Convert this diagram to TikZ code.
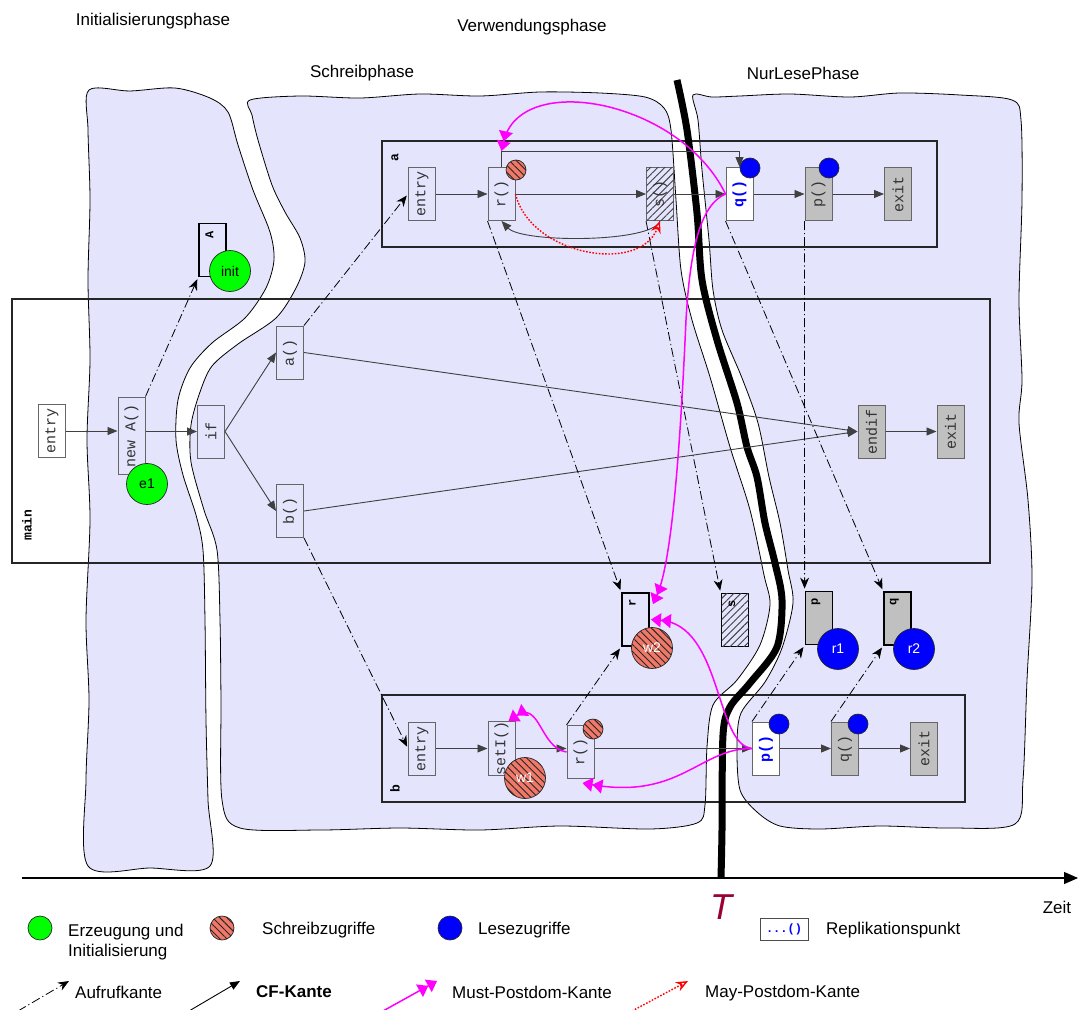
\documentclass[tikz,border=0pt]{standalone}
\usepackage{fontspec}
\setmainfont{Liberation Sans}
\newfontfamily\monofont{Liberation Mono}
\usepackage{graphicx}
\usetikzlibrary{arrows.meta,patterns.meta,calc}
\definecolor{lav}{RGB}{228,228,252}
\definecolor{salmon}{RGB}{240,120,104}
\definecolor{rogray}{RGB}{192,192,192}
\definecolor{tred}{RGB}{153,0,51}
\definecolor{greenfill}{RGB}{0,255,0}
\definecolor{mustpink}{RGB}{255,0,255}
\definecolor{mayred}{RGB}{255,0,0}
\definecolor{readblue}{RGB}{0,0,255}
\begin{document}
\begin{tikzpicture}[x=1pt,y=-1pt,
  blob/.style={fill=lav, draw=black, line width=0.8pt},
  frame/.style={draw=black!85, line width=2.4pt, inner sep=0pt},
  framelbl/.style={font=\monofont\bfseries\fontsize{13}{13}\selectfont, inner sep=0pt},
  cfg/.style={draw=black!60, line width=1pt, minimum width=27pt, minimum height=53pt, inner sep=0pt, font=\monofont\fontsize{15}{15}\selectfont, text=black!80},
  ro/.style={fill=rogray},
  repl/.style={fill=white, text=readblue, font=\monofont\bfseries\fontsize{15}{15}\selectfont},
  hatchbox/.style={fill=lav, postaction={pattern={Lines[angle=45,distance=5pt,line width=0.9pt]}, pattern color=black!75}},
  obj/.style={draw=black, line width=1.8pt, minimum width=27pt, minimum height=53pt, inner sep=0pt},
  objlbl/.style={font=\monofont\bfseries\fontsize{12}{12}\selectfont, inner sep=0pt},
  wcirc/.style={circle, draw=black!85, line width=0.7pt, fill=salmon, postaction={pattern={Lines[angle=-45,distance=5pt,line width=0.9pt]}, pattern color=black!85}, inner sep=0pt, text=white, font=\fontsize{14}{14}\selectfont},
  bcirc/.style={circle, draw=black!85, line width=0.7pt, fill=readblue, inner sep=0pt, text=white, font=\fontsize{14}{14}\selectfont},
  gcirc/.style={circle, draw=black!85, line width=0.7pt, fill=greenfill, inner sep=0pt, text=black, font=\fontsize{14}{14}\selectfont},
  cf/.style={draw=black!75, line width=0.9pt, -{Triangle[length=10pt,width=8pt]}},
  call/.style={draw=black, line width=0.8pt, dash pattern=on 9pt off 3pt on 1.2pt off 3pt, -{Stealth[length=11pt,width=9pt]}, shorten >=2pt},
  must/.style={draw=mustpink, line width=1.5pt, -{Triangle[length=10pt,width=14pt]Triangle[length=10pt,width=14pt]}},
  may/.style={draw=mayred, line width=1.4pt, dash pattern=on 1.6pt off 1.6pt, -{Stealth[open,length=12pt,width=10pt]}},
  phase/.style={font=\fontsize{17}{20}\selectfont, inner sep=0pt},
]
\useasboundingbox (0,0) rectangle (1081,1009);

% ---- phase areas ----
\draw[blob] plot[smooth cycle, tension=0.5] coordinates {(89,90) (130,91) (175,88) (210,98) (228,112) (238,145) (253,190) (270,232) (274,260) (266,288) (245,318) (212,343) (190,368) (178,400) (176,440) (183,475) (196,515) (203,550) (205,620) (206,720) (208,800) (210,866) (150,868) (88,866) (86,780) (89,700) (86,620) (90,520) (87,440) (90,360) (88,280) (90,200) (88,130)};
\draw[blob] plot[smooth cycle, tension=0.5] coordinates {(250,100) (300,96) (360,98) (420,94) (480,96) (540,92) (600,93) (645,97) (664,108) (671,130) (676,200) (681,270) (692,320) (710,377) (730,447) (750,510) (764,575) (770,605) (760,645) (737,680) (713,705) (707,747) (705,805) (697,823) (650,829) (560,826) (480,830) (400,828) (320,830) (240,828) (222,800) (221,700) (220,620) (217,550) (204,510) (191,462) (191,425) (200,392) (212,366) (238,344) (276,318) (296,288) (305,262) (300,238) (285,212) (272,185) (258,140) (252,115)};
\draw[blob] plot[smooth cycle, tension=0.5] coordinates {(693,95) (712,97) (740,96) (790,94) (850,97) (900,93) (960,95) (1012,100) (1021,120) (1022,200) (1019,300) (1022,380) (1019,423) (1028,500) (1032,580) (1027,680) (1023,780) (1015,824) (950,828) (880,826) (820,829) (780,826) (757,812) (740,790) (737,747) (741,713) (765,682) (782,648) (793,603) (788,570) (780,523) (769,477) (758,423) (742,378) (722,330) (713,290) (709,240) (702,170) (698,120)};

% ---- phase titles ----
\node[phase] (ph1) at (153,21) {Initialisierungsphase};
\node[phase] (ph2) at (532,27) {Verwendungsphase};
\node[phase] (ph3) at (362,73) {Schreibphase};
\node[phase] (ph4) at (803,73) {NurLesePhase};

% ---- procedure frames ----
\node[frame, minimum width=555pt, minimum height=106pt] (boxA) at (659.5,194) {};
\node[frame, minimum width=978pt, minimum height=264pt] (boxM) at (501,431) {};
\node[frame, minimum width=583pt, minimum height=107pt] (boxB) at (673.5,748.5) {};
\node[framelbl] (lblA) at (395,158) {\rotatebox{90}{a}};
\node[framelbl] (lblM) at (27,525) {\rotatebox{90}{main}};
\node[framelbl] (lblB) at (395,789) {\rotatebox{90}{b}};

% ---- time border T ----
\draw[line width=7pt] plot[smooth, tension=0.5] coordinates {(677,80) (687,130) (697,213) (702,280) (717,340) (737,403) (747,447) (757,477) (765,523) (775,563) (782,600) (777,647) (750,683) (730,707) (723,735) (722,830) (721,878)};

% ---- nodes of a ----
\node[cfg] (entA) at (422,194) {\rotatebox{90}{entry}};
\node[cfg] (rA) at (501.5,194) {\rotatebox{90}{r()}};
\node[cfg, hatchbox] (sA) at (660,194) {\rotatebox{90}{s()}};
\node[cfg, repl] (qA) at (739.5,194) {\rotatebox{90}{q()}};
\node[cfg, ro] (pA) at (818.5,194) {\rotatebox{90}{p()}};
\node[cfg, ro] (exA) at (898,194) {\rotatebox{90}{exit}};

% ---- nodes of main ----
\node[cfg] (entM) at (52,431) {\rotatebox{90}{entry}};
\node[cfg, minimum height=77pt] (newA) at (131.5,435.5) {\rotatebox{90}{new A()}};
\node[cfg] (ifM) at (211,431.5) {\rotatebox{90}{if}};
\node[cfg] (aM) at (290,352.5) {\rotatebox{90}{a()}};
\node[cfg] (bM) at (290,511) {\rotatebox{90}{b()}};
\node[cfg, ro] (endif) at (871.5,431.5) {\rotatebox{90}{endif}};
\node[cfg, ro] (exM) at (950.5,431.5) {\rotatebox{90}{exit}};

% ---- nodes of b ----
\node[cfg] (entB) at (422,748.5) {\rotatebox{90}{entry}};
\node[cfg] (setI) at (501.5,748.5) {\rotatebox{90}{setI()}};
\node[cfg] (rB) at (580.5,752) {\rotatebox{90}{r()}};
\node[cfg, repl] (pB) at (766,748.5) {\rotatebox{90}{p()}};
\node[cfg, ro] (qB) at (845,748.5) {\rotatebox{90}{q()}};
\node[cfg, ro] (exB) at (924,748.5) {\rotatebox{90}{exit}};

% ---- objects ----
\node[obj] (objA) at (212.5,250) {};
\node[objlbl] (objAL) at ($(objA.north)+(-3,12)$) {\rotatebox{90}{A}};
\node[obj] (rObj) at (635.5,619.5) {};
\node[objlbl] (rObjL) at ($(rObj.north)+(-3,11)$) {\rotatebox{90}{r}};
\node[obj, hatchbox] (sObj) at (735,620) {};
\node[objlbl] (sObjL) at ($(sObj.north)+(-3,11)$) {\rotatebox{90}{s}};
\node[obj, ro] (pObj) at (819,618) {};
\node[objlbl] (pObjL) at ($(pObj.north)+(-3,11)$) {\rotatebox{90}{p}};
\node[obj, ro] (qObj) at (897.5,618.5) {};
\node[objlbl] (qObjL) at ($(qObj.north)+(-3,11)$) {\rotatebox{90}{q}};

% ---- control flow edges ----
\draw[cf] (entA) -- (rA);
\draw[cf] (rA) -- (sA);
\draw[cf] (sA) -- (qA);
\draw[cf] (qA) -- (pA);
\draw[cf] (pA) -- (exA);
\draw[cf] (rA.north) |- ($(qA.north)+(0,-16)$) -- (qA.north);
\draw[cf] (sA.south) .. controls (652,243) and (522,243) .. (rA.south);

\draw[cf] (entM.east) -- (entM.east -| newA.west);
\draw[cf] (newA.east |- ifM.west) -- (ifM.west);
\draw[cf] (ifM.east) -- (aM.west);
\draw[cf] (ifM.east) -- (bM.west);
\draw[cf] (aM.east) -- (endif.west);
\draw[cf] (bM.east) -- (endif.west);
\draw[cf] (endif) -- (exM);

\draw[cf] (entB) -- (setI);
\draw[cf] (setI.east) -- (setI.east -| rB.west);
\draw[cf] (rB.east |- pB.west) -- (pB.west);
\draw[cf] (pB) -- (qB);
\draw[cf] (qB) -- (exB);

% ---- call edges ----
\draw[call] (newA.north east) -- (objA.south west);
\draw[call] (aM.north east) -- (entA.west);
\draw[call] (bM.south east) -- (entB.west);
\draw[call] (rA.south west) -- (rObj.north west);
\draw[call] (sA.south west) -- (sObj.north west);
\draw[call] (qA.south west) -- (qObj.north west);
\draw[call] (pA.south west) -- (pObj.north west);
\draw[call] (rB.north west) -- (rObj.south west);
\draw[call] (pB.north west) -- (pObj.south west);
\draw[call] (qB.north west) -- (qObj.south west);

% ---- postdominance edges ----
\draw[may] (rA.east) .. controls (530,255) and (640,275) .. (sA.south);
\draw[must] (qA.west) .. controls (680,100) and (520,70) .. ($(rA.north)+(0,-16)$);
\draw[must] (qA.west) .. controls (700,205) and (690,250) .. (686,320) .. controls (681,430) and (673,560) .. ($(rObj.north east)+(3,12)$);
\draw[must] (pB.west) .. controls (715,745) and (722,625) .. ($(rObj.east)+(1,0)$);
\draw[must] (pB.west) .. controls (700,748) and (680,800) .. ($(rB.south)+(2,4)$);
\draw[must] (rB.west) .. controls (540,748) and (540,700) .. ($(setI.north east)+(-7,0)$);

% ---- accesses ----
\node[gcirc, minimum size=41pt] (init) at (230,271) {init};
\node[gcirc, minimum size=41pt] (e1) at (147,484) {e1};
\node[wcirc, minimum size=41pt] (w2) at (652,648) {w2};
\node[bcirc, minimum size=41pt] (r1) at (838,649) {r1};
\node[bcirc, minimum size=41pt] (r2) at (914,649) {r2};
\node[wcirc, minimum size=41pt] (w1) at (525,778) {w1};
\node[wcirc, minimum size=20pt] (wrA) at (516,170) {};
\node[bcirc, minimum size=20pt] (rdqA) at (750,168) {};
\node[bcirc, minimum size=20pt] (rdpA) at (829,168) {};
\node[wcirc, minimum size=20pt] (wrB) at (593,729) {};
\node[bcirc, minimum size=20pt] (rdpB) at (779,724) {};
\node[bcirc, minimum size=20pt] (rdqB) at (858,724) {};

% ---- time axis ----
\coordinate (ax0) at (22,878);
\coordinate (ax1) at (1078,878);
\draw[line width=1.2pt, -{Triangle[length=14pt,width=12pt]}] (ax0) -- (ax1);
\node[font=\itshape\fontsize{36}{36}\selectfont, text=tred, inner sep=0pt] (Tlbl) at (721,907) {T};
\node[phase] (zeit) at (1057,907) {Zeit};

% ---- legend ----
\node[gcirc, minimum size=24pt] (lgG) at (40,928) {};
\node[phase, anchor=west, align=left] (lgGt) at (68,942) {Erzeugung und\\Initialisierung};
\node[wcirc, minimum size=24pt] (lgW) at (222,928) {};
\node[phase, anchor=west] (lgWt) at (262,930) {Schreibzugriffe};
\node[bcirc, minimum size=24pt] (lgB) at (450,928) {};
\node[phase, anchor=west] (lgBt) at (478,930) {Lesezugriffe};
\node[draw=black!70, line width=0.8pt, minimum width=48pt, minimum height=22pt, inner sep=0pt, font=\monofont\bfseries\fontsize{12}{12}\selectfont, text=readblue] (lgR) at (784,929) {...()};
\node[phase, anchor=west] (lgRt) at (826,930) {Replikationspunkt};

\coordinate (lc1s) at (18,1011);
\coordinate (lc1e) at (69,981);
\draw[call, shorten >=0pt] (lc1s) -- (lc1e);
\node[phase, anchor=west] (lc1t) at (75,992) {Aufrufkante};
\coordinate (lc2s) at (189,1011);
\coordinate (lc2e) at (240,981);
\draw[cf, draw=black] (lc2s) -- (lc2e);
\node[phase, anchor=west, font=\bfseries\fontsize{17}{20}\selectfont] (lc2t) at (256,992) {CF-Kante};
\coordinate (lc3s) at (383,1011);
\coordinate (lc3e) at (437,981);
\draw[must] (lc3s) -- (lc3e);
\node[phase, anchor=west] (lc3t) at (452,992) {Must-Postdom-Kante};
\coordinate (lc4s) at (632,1011);
\coordinate (lc4e) at (688,981);
\draw[may] (lc4s) -- (lc4e);
\node[phase, anchor=west] (lc4t) at (705,993) {May-Postdom-Kante};
\end{tikzpicture}
\end{document}
